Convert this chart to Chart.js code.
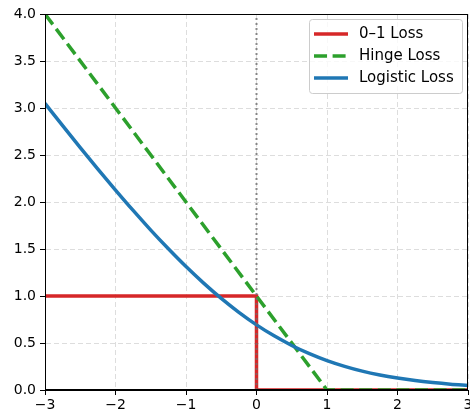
<!DOCTYPE html>
<html>
<head>
<meta charset="utf-8">
<script src="https://cdn.jsdelivr.net/npm/chart.js@4"></script>
<style>
  html, body { margin: 0; padding: 0; background: #fff; }
  #wrap { width: 470px; height: 414px; }
</style>
</head>
<body>
<div id="wrap"><canvas id="lossChart" width="470" height="414"></canvas></div>
<script>
// margin values
const zeroOneX = [-3, 0, 0, 3];
const zeroOneY = [1, 1, 0, 0];
const hingeX = [-3, 1, 3];
const hingeY = [4, 0, 0];
const logisticX = [-3, -2.75, -2.5, -2.25, -2, -1.75, -1.5, -1.25, -1, -0.75, -0.5, -0.25,
                   0, 0.25, 0.5, 0.75, 1, 1.25, 1.5, 1.75, 2, 2.25, 2.5, 2.75, 3];
const logisticY = [3.049, 2.812, 2.579, 2.350, 2.127, 1.910, 1.701, 1.502, 1.313, 1.137, 0.974, 0.826,
                   0.693, 0.576, 0.474, 0.387, 0.313, 0.252, 0.201, 0.160, 0.127, 0.100, 0.079, 0.062, 0.049];
const vlineX = [0, 0];
const vlineY = [0, 4];
const xTicks = [-3, -2, -1, 0, 1, 2, 3];
const yTicks = [0, 0.5, 1, 1.5, 2, 2.5, 3, 3.5, 4];
const seriesNames = ['0\u20131 Loss', 'Hinge Loss', 'Logistic Loss'];

const FONT = 'DejaVu Sans';

function toPoints(xs, ys){
    let pts = []
    for(let i=0; i<xs.length; i++){
        pts.push({x: xs[i], y: ys[i]})
    }
    return pts
}

// box round the axes + legend in the upper right corner
const framePlugin = {
    id: 'frame',
    afterDraw(chart){
        const ctx = chart.ctx;
        const a = chart.chartArea;
        ctx.save();
        ctx.strokeStyle = '#000';
        ctx.lineWidth = 1;
        ctx.strokeRect(Math.round(a.left) + 0.5, Math.round(a.top) + 0.5,
                       Math.round(a.right - a.left) - 1, Math.round(a.bottom - a.top) - 1);

        // legend
        const bx = 309, by = 19, bw = 153, bh = 74;
        ctx.fillStyle = 'rgba(255,255,255,0.8)';
        ctx.strokeStyle = '#cccccc';
        ctx.lineWidth = 1;
        ctx.beginPath();
        ctx.roundRect(bx + 0.5, by + 0.5, bw, bh, 3);
        ctx.fill();
        ctx.stroke();

        const items = chart.data.datasets.filter(d => d.label);
        ctx.font = '15px "' + FONT + '"';
        ctx.textBaseline = 'middle';
        for(let i=0; i<items.length; i++){
            const ds = items[i];
            const y = 34 + i * 22;
            ctx.strokeStyle = ds.borderColor;
            ctx.lineWidth = ds.borderWidth;
            ctx.setLineDash(ds.borderDash || []);
            ctx.beginPath();
            ctx.moveTo(314, y);
            ctx.lineTo(348, y);
            ctx.stroke();
            ctx.setLineDash([]);
            ctx.fillStyle = '#000';
            ctx.fillText(ds.label, 359, y);
        }
        ctx.restore();
    }
};

function displayChart(id){
    const ctx = document.getElementById(id);
    new Chart(ctx, {
        type: 'line',
        data: {
            datasets: [
                {
                    label: seriesNames[0],
                    data: toPoints(zeroOneX, zeroOneY),
                    borderColor: '#d62728',
                    borderWidth: 3.5,
                    pointRadius: 0,
                    order: 4
                },
                {
                    label: seriesNames[1],
                    data: toPoints(hingeX, hingeY),
                    borderColor: '#2ca02c',
                    borderWidth: 3.5,
                    borderDash: [13, 5.6],
                    pointRadius: 0,
                    order: 3
                },
                {
                    label: seriesNames[2],
                    data: toPoints(logisticX, logisticY),
                    borderColor: '#1f77b4',
                    borderWidth: 3.5,
                    pointRadius: 0,
                    cubicInterpolationMode: 'monotone',
                    order: 2
                },
                {
                    data: toPoints(vlineX, vlineY),
                    borderColor: 'rgba(110,110,110,0.8)',
                    borderWidth: 2,
                    borderDash: [2, 3],
                    pointRadius: 0,
                    order: 1
                }
            ]
        },
        options: {
            responsive: false,
            animation: false,
            layout: { padding: { left: 0, right: 2, top: 14, bottom: 0 } },
            plugins: {
                legend: { display: false },
                tooltip: { enabled: false }
            },
            scales: {
                x: {
                    type: 'linear',
                    min: -3,
                    max: 3,
                    afterBuildTicks: s => { s.ticks = xTicks.map(v => ({value: v})); },
                    afterFit: s => { s.height = 24; s.paddingLeft = 0; s.paddingRight = 0; },
                    ticks: {
                        color: '#000',
                        padding: 2,
                        maxRotation: 0,
                        font: { family: FONT, size: 14 },
                        callback: v => String(v).replace('-', '\u2212')
                    },
                    grid: { color: '#dddddd', tickColor: '#000', tickLength: 5, lineWidth: 1 },
                    border: { color: '#000', width: 1, dash: [5, 3] }
                },
                y: {
                    type: 'linear',
                    min: 0,
                    max: 4,
                    afterBuildTicks: s => { s.ticks = yTicks.map(v => ({value: v})); },
                    afterFit: s => { s.width = 45; s.paddingTop = 0; s.paddingBottom = 0; },
                    ticks: {
                        color: '#000',
                        padding: 4,
                        font: { family: FONT, size: 14 },
                        callback: v => Number(v).toFixed(1)
                    },
                    grid: { color: '#dddddd', tickColor: '#000', tickLength: 5, lineWidth: 1 },
                    border: { color: '#000', width: 1, dash: [5, 3] }
                }
            }
        },
        plugins: [framePlugin]
    });
}

window.onload = () => displayChart('lossChart');
</script>
</body>
</html>
